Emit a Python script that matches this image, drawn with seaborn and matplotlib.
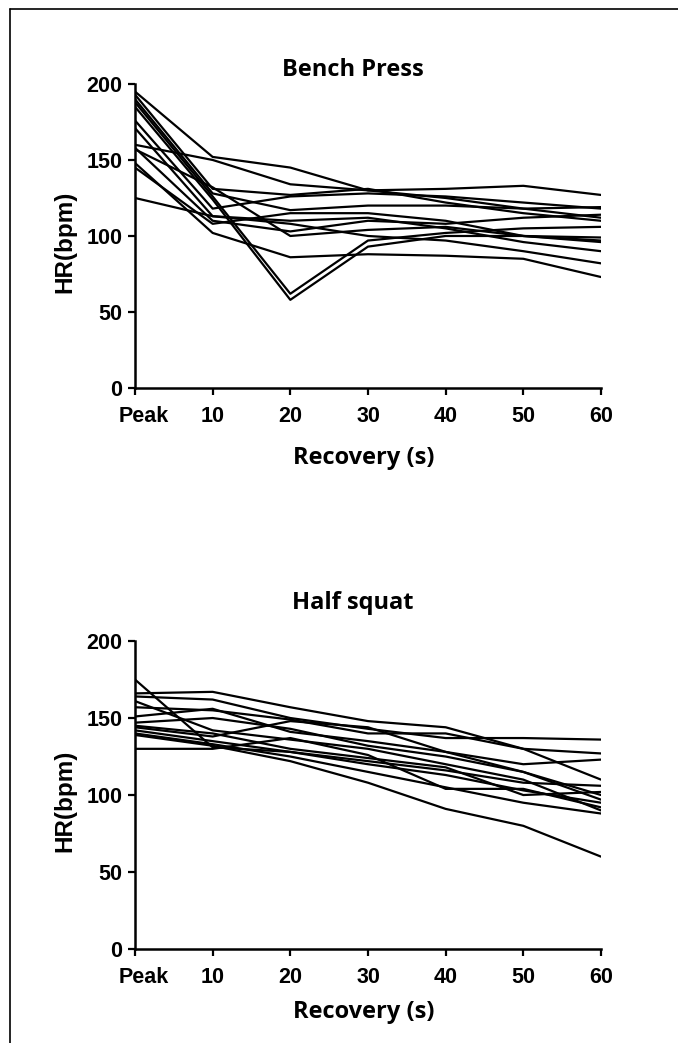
import numpy as np
import pandas as pd
import seaborn as sns
import matplotlib.pyplot as plt
from matplotlib.lines import Line2D
from matplotlib.transforms import ScaledTranslation

# time points (s), 0 = peak
zeit = [0, 10, 20, 30, 40, 50, 60]
x_labels = ['Peak', '10', '20', '30', '40', '50', '60']

# Bench press HR (bpm), one list per subject
bench = [
    [195, 152, 145, 130, 125, 118, 112],
    [160, 150, 134, 130, 131, 133, 127],
    [193, 131, 127, 131, 122, 115, 110],
    [190, 128, 117, 120, 120, 118, 119],
    [188, 126, 62, 97, 102, 105, 106],
    [185, 124, 58, 93, 100, 100, 97],
    [176, 118, 126, 128, 126, 122, 118],
    [171, 113, 108, 100, 97, 90, 82],
    [158, 110, 103, 110, 108, 112, 114],
    [157, 132, 100, 104, 106, 100, 99],
    [148, 102, 86, 88, 87, 85, 73],
    [145, 108, 115, 115, 110, 100, 96],
    [125, 113, 110, 112, 105, 96, 90],
]

# Half squat HR (bpm)
squat = [
    [175, 131, 128, 122, 116, 108, 106],
    [166, 167, 157, 148, 144, 130, 110],
    [164, 162, 150, 143, 137, 137, 136],
    [157, 155, 149, 140, 140, 130, 127],
    [151, 156, 141, 135, 128, 120, 123],
    [147, 150, 143, 132, 125, 115, 100],
    [144, 138, 148, 144, 128, 115, 97],
    [142, 135, 128, 120, 113, 103, 95],
    [140, 133, 125, 115, 105, 95, 88],
    [139, 132, 122, 108, 91, 80, 60],
    [130, 130, 137, 126, 104, 104, 92],
    [145, 140, 130, 124, 118, 100, 102],
    [161, 142, 136, 130, 120, 110, 90],
]


def mach_df(werte):
    zeilen = []
    for i, reihe in enumerate(werte):
        for t, hr in zip(zeit, reihe):
            zeilen.append({'subj': i, 't': t, 'hr': hr})
    return pd.DataFrame(zeilen)


sns.set_style('ticks')
plt.rcParams['font.family'] = ['Liberation Sans', 'DejaVu Sans']
for k in ['text.color', 'axes.labelcolor', 'xtick.color', 'ytick.color',
          'axes.edgecolor']:
    plt.rcParams[k] = 'black'

fig = plt.figure(figsize=(6.78, 10.43), dpi=100)
ax1 = fig.add_axes([0.1991, 0.6280, 0.6873, 0.2915])
ax2 = fig.add_axes([0.1991, 0.0901, 0.6873, 0.2953])

label_font = dict(family='Open Sans', weight='bold', size=17)

# (axes, data, title, title pad, xlabel y)
panels = [(ax1, bench, 'Bench Press', 6, -0.19),
          (ax2, squat, 'Half squat', 23, -0.165)]

for ax, werte, titel, tpad, xl_y in panels:
    sns.lineplot(ax=ax, data=mach_df(werte), x='t', y='hr', units='subj',
                 estimator=None, color='black', linewidth=1.6)
    ax.set_xlim(0, 60)
    ax.set_ylim(0, 200)
    ax.set_xticks(zeit)
    ax.set_xticklabels(x_labels)
    ax.set_yticks([0, 50, 100, 150, 200])
    ax.tick_params(direction='out', length=5, width=1.6, pad=4,
                   labelsize=15.5, colors='black')
    ax.tick_params(axis='x', pad=8)
    for lab in ax.get_xticklabels() + ax.get_yticklabels():
        lab.set_fontweight('bold')
    # "Peak" sits a bit right of its tick in the original
    peak = ax.get_xticklabels()[0]
    peak.set_transform(peak.get_transform() +
                       ScaledTranslation(0.09, 0, fig.dpi_scale_trans))
    for s in ['left', 'bottom']:
        ax.spines[s].set_linewidth(1.8)
        ax.spines[s].set_color('black')
    sns.despine(ax=ax)
    ax.spines['left'].set_clip_on(False)
    ax.spines['bottom'].set_clip_on(False)
    ax.set_xlabel('Recovery (s)', fontdict=label_font)
    ax.xaxis.set_label_coords(0.49, xl_y)
    ax.set_ylabel('HR(bpm)', fontsize=17.5, fontweight='bold')
    ax.yaxis.set_label_coords(-0.125, 0.48)
    ax.set_title(titel, fontdict=label_font, pad=tpad, x=0.468)

# frame around the figure (only top and left visible)
fig.add_artist(Line2D([10 / 678, 1.0], [1 - 9 / 1043, 1 - 9 / 1043],
                      transform=fig.transFigure, color='black', linewidth=1.2))
fig.add_artist(Line2D([10 / 678, 10 / 678], [0.0, 1 - 9 / 1043],
                      transform=fig.transFigure, color='black', linewidth=1.2))

fig.savefig('out.png', dpi=100)
